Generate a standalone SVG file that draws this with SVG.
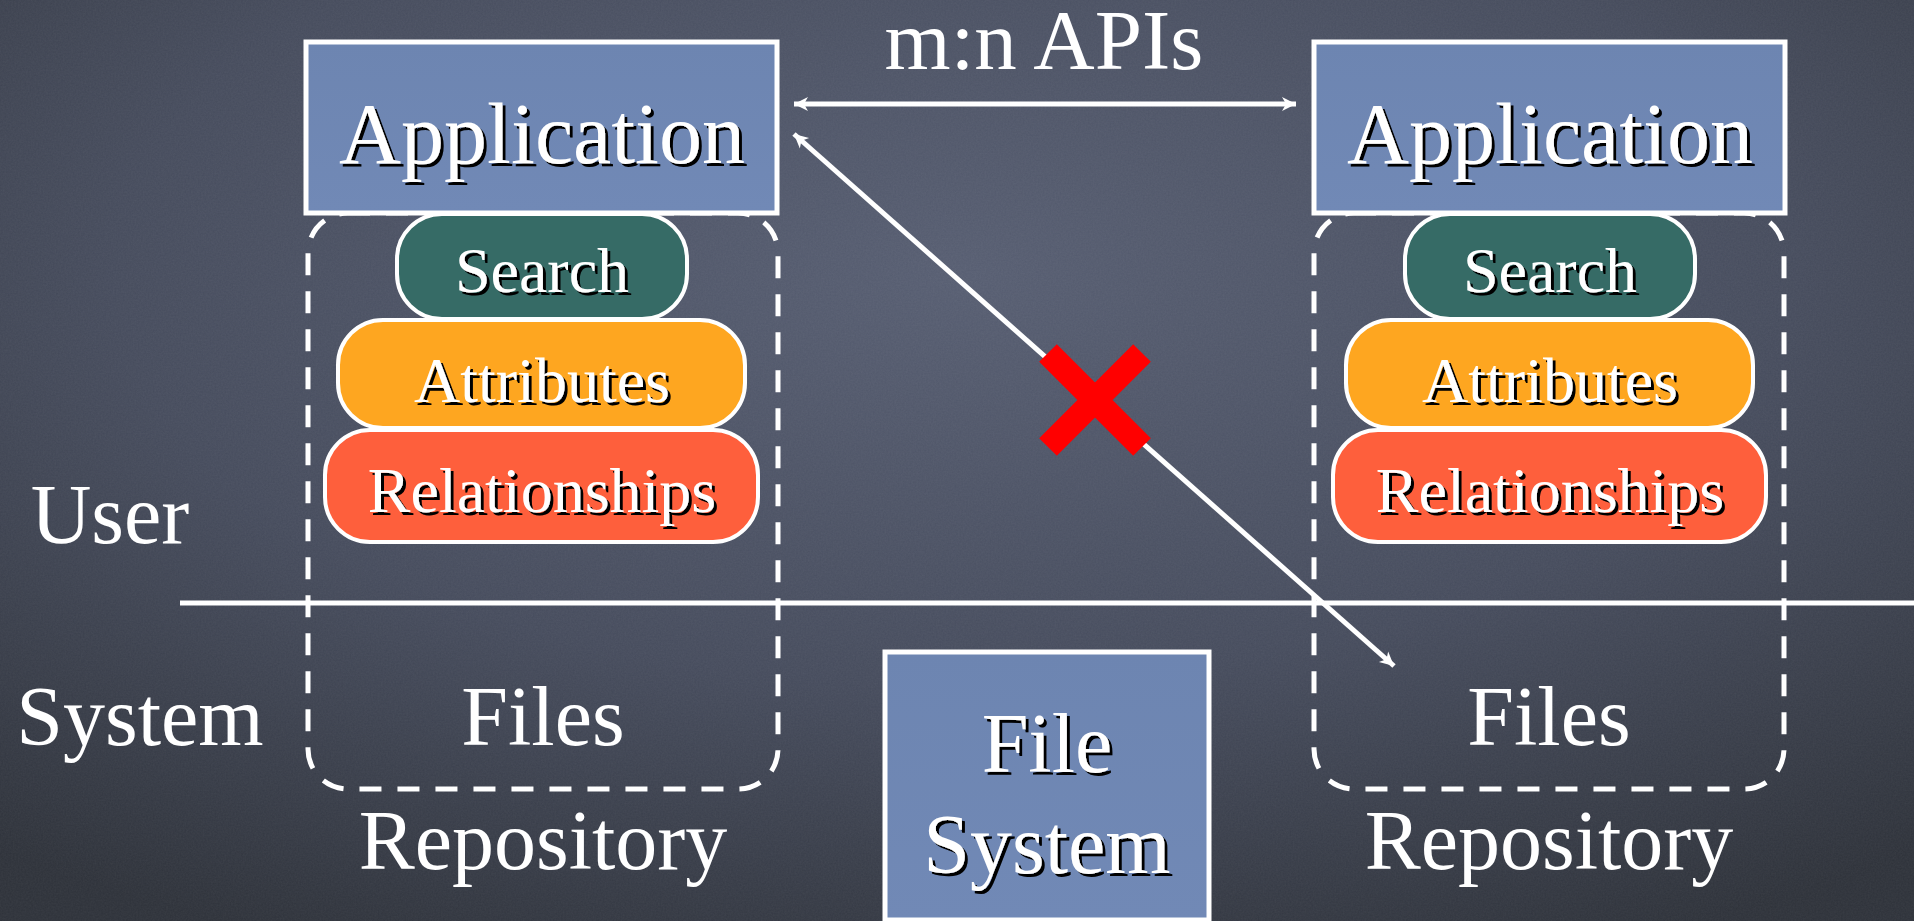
<svg xmlns="http://www.w3.org/2000/svg" width="1914" height="921" viewBox="0 0 1914 921">
  <defs>
    <radialGradient id="board" cx="0.5" cy="0.3" r="0.8">
      <stop offset="0" stop-color="#565d71"/>
      <stop offset="0.55" stop-color="#454b5c"/>
      <stop offset="1" stop-color="#2d3139"/>
    </radialGradient>
    <linearGradient id="slate" x1="0" y1="0" x2="0" y2="1">
      <stop offset="0" stop-color="#6d85b1"/>
      <stop offset="1" stop-color="#7189b6"/>
    </linearGradient>
    <filter id="shadow" x="-10%" y="-10%" width="120%" height="130%">
      <feDropShadow dx="3" dy="3" stdDeviation="0.6" flood-color="#000" flood-opacity="1"/>
    </filter>
    <filter id="chalk" x="0" y="0" width="100%" height="100%">
      <feTurbulence type="fractalNoise" baseFrequency="0.6" numOctaves="2" seed="4" result="n"/>
      <feColorMatrix in="n" type="matrix" values="0 0 0 0 1  0 0 0 0 1  0 0 0 0 1  0 0 0 0.06 0"/>
    </filter>
    <marker id="tip" viewBox="-15 -8 17 16" markerWidth="17" markerHeight="16" refX="0" refY="0" orient="auto-start-reverse" markerUnits="userSpaceOnUse">
      <path d="M-14,-7 L0,0 L-14,7 L-10,0 Z" fill="#fff"/>
    </marker>
    <style>
      text { font-family: "Liberation Serif", "Times New Roman", serif; fill: #fff; text-anchor: middle; }
      .big { font-size: 86px; }
      .mid { font-size: 64px; }
      .lbl { font-size: 84px; }
      .sh { filter: url(#shadow); }
      .app { fill: url(#slate); stroke: #fff; stroke-width: 5; }
      .pill { stroke: #fff; stroke-width: 4; }
      .repo { fill: none; stroke: #fff; stroke-width: 5; stroke-dasharray: 22 16; }
      .wire { stroke: #fff; stroke-width: 5; fill: none; }
    </style>
  </defs>

  <!-- chalkboard background -->
  <rect x="0" y="0" width="1914" height="921" fill="url(#board)"/>
  <rect x="0" y="0" width="1914" height="921" filter="url(#chalk)"/>

  <!-- user / system divider -->
  <line x1="180" y1="603" x2="1914" y2="603" stroke="#fff" stroke-width="5"/>

  <!-- side labels -->
  <text class="lbl" x="110" y="543">User</text>
  <text class="lbl" x="140" y="745">System</text>

  <!-- left repository -->
  <g id="repo-left">
    <rect class="repo" x="308" y="213" width="470" height="576" rx="40" ry="40"/>
    <text class="lbl" x="543" y="745">Files</text>
    <text class="lbl" x="543" y="869">Repository</text>
  </g>
  <g id="app-left">
    <rect class="app" x="306" y="42" width="471" height="171"/>
    <text class="big sh" x="542" y="163">Application</text>
  </g>
  <g id="search-left">
    <rect class="pill" x="397" y="214" width="290" height="105" rx="45" fill="#366b66"/>
    <text class="mid sh" x="542" y="292">Search</text>
  </g>
  <g id="attributes-left">
    <rect class="pill" x="338" y="320" width="407" height="108" rx="45" fill="#fea620"/>
    <text class="mid sh" x="542" y="402">Attributes</text>
  </g>
  <g id="relationships-left">
    <rect class="pill" x="325" y="430" width="433" height="112" rx="45" fill="#fe5f3c"/>
    <text class="mid sh" x="542" y="512">Relationships</text>
  </g>

  <!-- right repository -->
  <g id="repo-right">
    <rect class="repo" x="1314" y="213" width="470" height="576" rx="40" ry="40"/>
    <text class="lbl" x="1549" y="745">Files</text>
    <text class="lbl" x="1549" y="869">Repository</text>
  </g>
  <g id="app-right">
    <rect class="app" x="1314" y="42" width="471" height="171"/>
    <text class="big sh" x="1550" y="163">Application</text>
  </g>
  <g id="search-right">
    <rect class="pill" x="1405" y="214" width="290" height="105" rx="45" fill="#366b66"/>
    <text class="mid sh" x="1550" y="292">Search</text>
  </g>
  <g id="attributes-right">
    <rect class="pill" x="1346" y="320" width="407" height="108" rx="45" fill="#fea620"/>
    <text class="mid sh" x="1550" y="402">Attributes</text>
  </g>
  <g id="relationships-right">
    <rect class="pill" x="1333" y="430" width="433" height="112" rx="45" fill="#fe5f3c"/>
    <text class="mid sh" x="1550" y="512">Relationships</text>
  </g>

  <!-- shared file system -->
  <g id="file-system">
    <rect class="app" x="885" y="652" width="324" height="268"/>
    <text class="lbl sh" x="1047" y="772">File</text>
    <text class="lbl sh" x="1047" y="873">System</text>
  </g>

  <!-- connectors -->
  <g id="connectors">
    <text class="lbl" x="1044" y="69" style="font-size:85px">m:n APIs</text>
    <line class="wire" x1="794" y1="104" x2="1296" y2="104" marker-start="url(#tip)" marker-end="url(#tip)"/>
    <line class="wire" x1="794" y1="134" x2="1394" y2="666" marker-start="url(#tip)" marker-end="url(#tip)"/>
  </g>

  <!-- blocked path -->
  <g id="cross" stroke="#ff0000" stroke-width="25" stroke-linecap="butt">
    <line x1="1048" y1="353" x2="1142" y2="447"/>
    <line x1="1142" y1="353" x2="1048" y2="447"/>
  </g>
</svg>
